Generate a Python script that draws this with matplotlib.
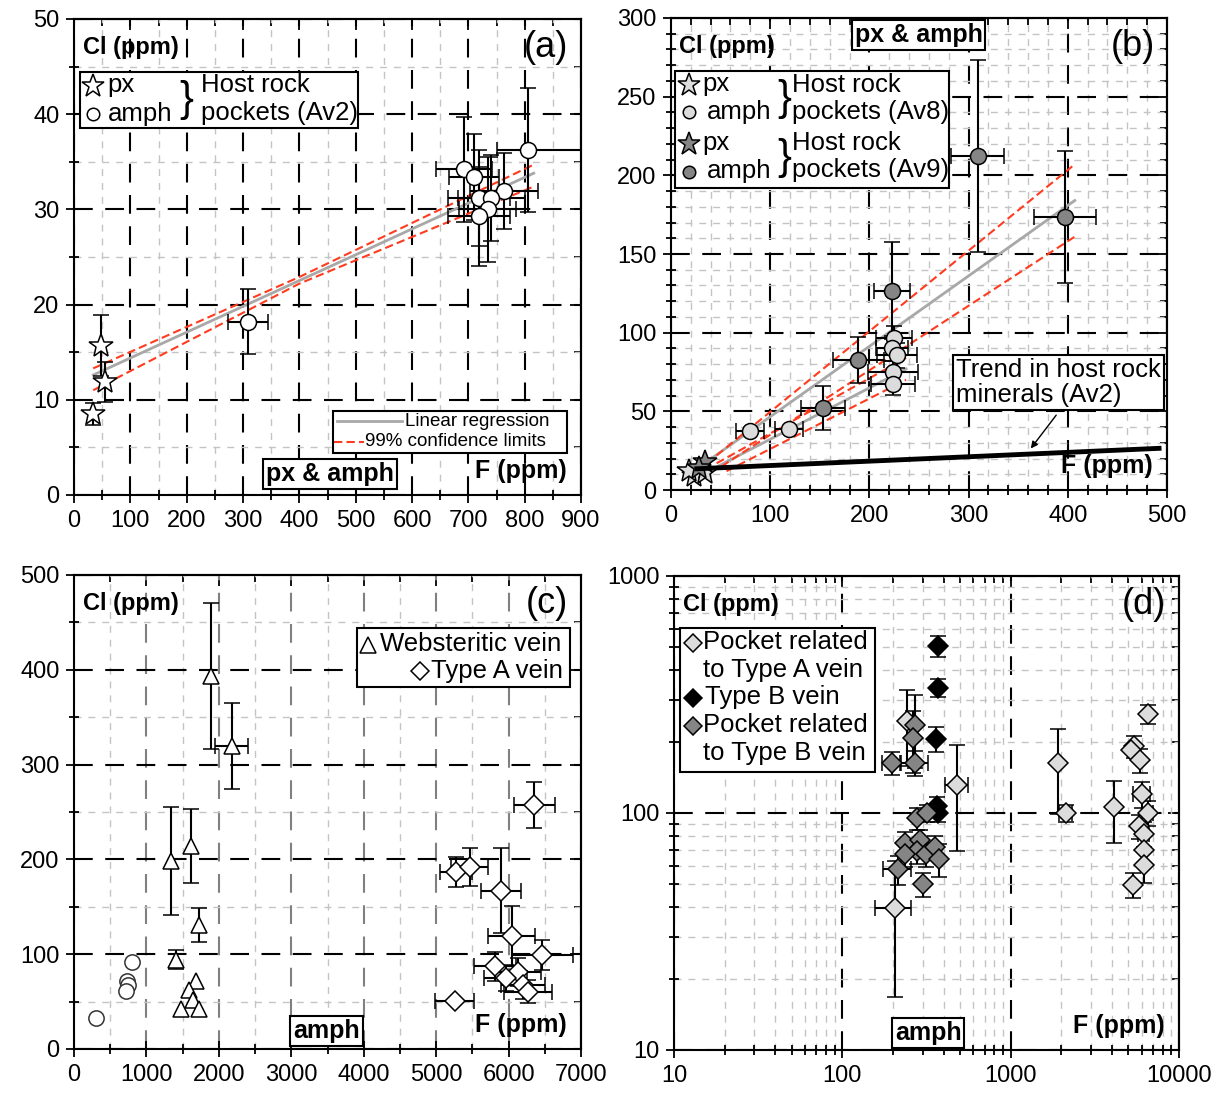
import numpy as np
import matplotlib.pyplot as plt
import matplotlib.ticker as mticker
from matplotlib.patches import Rectangle

plt.rcParams['font.family'] = ['Liberation Sans', 'DejaVu Sans']

nan = np.nan

# ---------------- panel (a): host rock pockets Av2
a_px_F = [47, 55, 33]
a_px_Cl = [15.7, 11.9, 8.5]
a_px_Clerr = [3.2, 2.1, 1.2]

a_amph_F = [309, 805, 692, 710, 763, 718, 741, 734, 719]
a_amph_Cl = [18.2, 36.2, 34.2, 33.4, 31.9, 31.2, 31.2, 30.0, 29.3]
a_amph_Ferr_lo = [35, 55, 50, 45, 60, 55, 60, 50, 55]
a_amph_Ferr_hi = [35, 95, 50, 45, 60, 55, 60, 50, 55]
a_amph_Clerr = [3.4, 6.5, 5.5, 4.5, 4.0, 5.0, 4.5, 5.5, 5.2]

a_reg_F = [34, 816]
a_reg_Cl = [12.6, 33.8]
a_ci_F = [34, 400, 816]
a_ci_hi = [13.3, 22.9, 34.7]
a_ci_lo = [11.0, 22.2, 32.4]

# ---------------- panel (b): host rock pockets Av8 / Av9
b_av8_px_F = [23, 34, 18]
b_av8_px_Cl = [9, 11, 12]
b_av9_px_F = [34, 28]
b_av9_px_Cl = [18, 14]

b_av8_F = [80, 119, 225, 223, 228, 224, 224]
b_av8_Cl = [37.7, 38.8, 96.4, 90, 85.7, 75, 67.6]
b_av8_Ferr = [14, 14, 18, 16, 20, 25, 22]
b_av8_Clerr = [nan, nan, 8, 8, 8, 7, 7]

b_av9_F = [309, 397, 223, 189, 153]
b_av9_Cl = [212, 173.6, 126.7, 82.5, 52]
b_av9_Ferr = [27, 31, 18, 26, 22]
b_av9_Clerr = [61, 42, 31, 14.5, 14]

b_reg9_F = [34, 407]
b_reg9_Cl = [17, 184]
b_ci9_hi_F = [46, 407]
b_ci9_hi_Cl = [22, 207]
b_ci9_lo_F = [51, 407]
b_ci9_lo_Cl = [15, 161]

b_reg8_F = [41, 237]
b_reg8_Cl = [13, 77]
b_ci8_hi_F = [46, 237]
b_ci8_hi_Cl = [17, 84]
b_ci8_lo_F = [56, 237]
b_ci8_lo_Cl = [12, 70]

b_trend_F = [26, 492]
b_trend_Cl = [13.5, 26.5]

# ---------------- panel (c): veins
c_web_F = [1885, 2175, 1334, 1609, 1730, 1406, 1680, 1590, 1640, 1480, 1720]
c_web_Cl = [393.5, 319.5, 198.5, 213.7, 130.7, 93.9, 72, 62, 52, 42, 42]
c_web_Ferr = [nan, 225, nan, nan, nan, nan, nan, nan, nan, nan, nan]
c_web_Clerr = [77, 45, 57, 39, 18, 10, nan, nan, nan, nan, nan]

c_circ_F = [802, 725, 739, 715, 304]
c_circ_Cl = [92, 72, 67, 61, 33]

c_A_F = [6355, 5268, 5461, 5896, 6041, 6466, 5814, 6128, 5960, 6200, 6273, 5258]
c_A_Cl = [257.4, 187, 192.4, 167, 119, 99, 87, 81, 75, 67, 60.6, 50.5]
c_A_Ferr = [280, 220, 250, 280, 320, 420, 290, 320, 300, 300, 330, 270]
c_A_Clerr = [24, 16, 20, 45, 32, 16, 15, 15, 14, 14, 12, nan]

# ---------------- panel (d): pockets related to veins (log-log)
d_pA_F = [206, 482, 243, 1900, 2118, 4090, 6516, 5380, 5150, 5850, 6010, 6516,
          5750, 6170, 6170, 6170, 5300]
d_pA_Cl = [39.8, 131, 244, 163, 100, 106, 261, 191, 185, 167, 120, 100,
           87.7, 81.8, 70, 60.5, 49.6]
d_pA_Ferr = [50, 75, nan, nan, 180, nan, nan, nan, nan, nan, 700, 500,
             nan, 500, nan, nan, nan]
d_pA_Clerr = [23, 62, 86, 64, 8, 31, 24, 20, nan, 20, 15, 12,
              10, 10, 10, 10, 6]

d_B_F = [371, 371, 362, 367, 372]
d_B_Cl = [505, 337, 205, 107, 100]
d_B_Clerr = [52, 30, 25, 10, 8]

d_pB_F = [197, 271, 261, 271, 279, 320, 237, 290, 276, 237, 312, 357, 376, 214, 301]
d_pB_Cl = [163, 235, 208, 163, 95, 100, 74.7, 77, 69, 67, 67, 72, 63.8, 57.8, 50]
d_pB_Ferr = [25, nan, nan, 50, nan, nan, nan, nan, nan, nan, nan, nan, nan, 40, nan]
d_pB_Clerr = [18, 80, 60, 20, 10, 8, 8, 8, 8, 8, 8, 8, 10, 8, 6]

LIGHT = '#dcdcdc'
DARK = '#858585'
RED = '#ff3b1f'
FS = 17
LFS = 18.5


def style(ax, xmaj=None, xmin=None, ymaj=None, ymin=None, log=False, xgrid='black'):
    ax.set_axisbelow(True)
    if log:
        ax.set_xscale('log')
        ax.set_yscale('log')
        fmt = mticker.FuncFormatter(lambda v, p: f'{v:g}')
        for axis in (ax.xaxis, ax.yaxis):
            axis.set_major_locator(mticker.LogLocator(base=10))
            axis.set_minor_locator(mticker.LogLocator(base=10, subs=np.arange(2, 10)))
            axis.set_major_formatter(fmt)
            axis.set_minor_formatter(mticker.NullFormatter())
    else:
        ax.xaxis.set_major_locator(mticker.MultipleLocator(xmaj))
        ax.xaxis.set_minor_locator(mticker.MultipleLocator(xmin))
        ax.yaxis.set_major_locator(mticker.MultipleLocator(ymaj))
        ax.yaxis.set_minor_locator(mticker.MultipleLocator(ymin))
    ax.grid(which='minor', color='#c4c4c4', lw=1.0, ls=(0, (5, 5)))
    ax.grid(which='major', axis='y', color='black', lw=1.5, ls=(0, (9, 6)))
    ax.grid(which='major', axis='x', color=xgrid, lw=1.5, ls=(0, (9, 6)))
    ax.tick_params(which='both', direction='inout', labelsize=FS, width=1.3, pad=5)
    ax.tick_params(which='major', length=11)
    ax.tick_params(which='minor', length=7)
    for s in ax.spines.values():
        s.set_linewidth(1.5)
    top = ax.secondary_xaxis('top')
    right = ax.secondary_yaxis('right')
    for sec, axis in ((top, top.xaxis), (right, right.yaxis)):
        if log:
            axis.set_major_locator(mticker.LogLocator(base=10))
            axis.set_minor_locator(mticker.LogLocator(base=10, subs=np.arange(2, 10)))
        sec.tick_params(which='both', direction='in', width=1.3,
                        labeltop=False, labelright=False)
        sec.tick_params(which='major', length=8)
        sec.tick_params(which='minor', length=5)
    if not log:
        top.xaxis.set_major_locator(mticker.MultipleLocator(xmaj))
        top.xaxis.set_minor_locator(mticker.MultipleLocator(xmin))
        right.yaxis.set_major_locator(mticker.MultipleLocator(ymaj))
        right.yaxis.set_minor_locator(mticker.MultipleLocator(ymin))
    for sec in (top, right):
        for s in sec.spines.values():
            s.set_linewidth(1.5)


def labels(ax, tag):
    ax.text(0.017, 0.94, 'Cl (ppm)', transform=ax.transAxes, fontsize=17,
            fontweight='bold', va='center', zorder=6)
    ax.text(0.975, 0.94, tag, transform=ax.transAxes, fontsize=26,
            ha='right', va='center', zorder=6)
    ax.text(0.972, 0.05, 'F (ppm)', transform=ax.transAxes, fontsize=18,
            fontweight='bold', ha='right', va='center', zorder=6)


def boxed(ax, x, y, s):
    ax.text(x, y, s, transform=ax.transAxes, fontsize=18, fontweight='bold',
            ha='center', va='center', zorder=7,
            bbox=dict(boxstyle='square,pad=0.12', fc='white', ec='black', lw=1.5))


def frame_box(ax, x, y, w, h):
    ax.add_patch(Rectangle((x, y), w, h, transform=ax.transAxes, fc='white',
                           ec='black', lw=1.5, zorder=6, clip_on=False))


def key(ax, x, y, marker, fc, ms):
    ax.plot([x], [y], marker=marker, ms=ms, mfc=fc, mec='black', mew=1.1,
            ls='none', transform=ax.transAxes, clip_on=False, zorder=7)


def txt(ax, x, y, s, size=LFS, **kw):
    ax.text(x, y, s, transform=ax.transAxes, fontsize=size, va='center', zorder=7, **kw)


eb = dict(ecolor='black', elinewidth=1.5, capsize=6, capthick=1.5,
          mec='black', mew=1.1, ls='none')

fig = plt.figure(figsize=(12.3, 10.97), dpi=100)

# ================= (a)
ax = fig.add_axes([0.0602, 0.5488, 0.4122, 0.4339])
style(ax, 100, 50, 10, 5)
ax.set_xlim(0, 900)
ax.set_ylim(0, 50)
ax.plot(a_reg_F, a_reg_Cl, color='#a8a8a8', lw=2, zorder=2)
ax.plot(a_ci_F, a_ci_hi, color=RED, lw=1.5, ls=(0, (4, 2)), zorder=2)
ax.plot(a_ci_F, a_ci_lo, color=RED, lw=1.5, ls=(0, (4, 2)), zorder=2)
ax.errorbar(a_px_F, a_px_Cl, yerr=a_px_Clerr, fmt='*', ms=18, mfc='white', zorder=3, **eb)
ax.errorbar(a_amph_F, a_amph_Cl, xerr=[a_amph_Ferr_lo, a_amph_Ferr_hi], yerr=a_amph_Clerr,
            fmt='o', ms=11.5, mfc='white', zorder=3, **eb)
labels(ax, '(a)')
boxed(ax, 0.505, 0.044, 'px & amph')
frame_box(ax, 0.012, 0.77, 0.548, 0.118)
key(ax, 0.038, 0.860, '*', 'white', 17)
key(ax, 0.038, 0.800, 'o', 'white', 9)
txt(ax, 0.065, 0.862, 'px')
txt(ax, 0.066, 0.800, 'amph')
txt(ax, 0.221, 0.830, '}', size=30, ha='center')
txt(ax, 0.250, 0.862, 'Host rock')
txt(ax, 0.250, 0.802, 'pockets (Av2)')
frame_box(ax, 0.511, 0.088, 0.461, 0.088)
ax.plot([0.519, 0.647], [0.155, 0.155], color='#a8a8a8', lw=2,
        transform=ax.transAxes, zorder=7)
ax.plot([0.513, 0.571], [0.112, 0.112], color=RED, lw=1.5, ls=(0, (4, 2)),
        transform=ax.transAxes, zorder=7)
txt(ax, 0.652, 0.155, 'Linear regression', size=13.5)
txt(ax, 0.574, 0.112, '99% confidence limits', size=13.5)

# ================= (b)
ax = fig.add_axes([0.5455, 0.5533, 0.4033, 0.4303])
style(ax, 100, 20, 50, 10)
ax.set_xlim(0, 500)
ax.set_ylim(0, 300)
for F, Cl, c, ls in ((b_reg9_F, b_reg9_Cl, '#a8a8a8', '-'),
                     (b_reg8_F, b_reg8_Cl, '#a8a8a8', '-'),
                     (b_ci9_hi_F, b_ci9_hi_Cl, RED, (0, (4, 2))),
                     (b_ci9_lo_F, b_ci9_lo_Cl, RED, (0, (4, 2))),
                     (b_ci8_hi_F, b_ci8_hi_Cl, RED, (0, (4, 2))),
                     (b_ci8_lo_F, b_ci8_lo_Cl, RED, (0, (4, 2)))):
    ax.plot(F, Cl, color=c, lw=2 if ls == '-' else 1.5, ls=ls, zorder=2)
ax.plot(b_trend_F, b_trend_Cl, color='black', lw=3.5, zorder=4)
ax.errorbar(b_av8_F, b_av8_Cl, xerr=b_av8_Ferr, yerr=b_av8_Clerr, fmt='o', ms=11.5,
            mfc=LIGHT, zorder=3, **eb)
ax.errorbar(b_av9_F, b_av9_Cl, xerr=b_av9_Ferr, yerr=b_av9_Clerr, fmt='o', ms=11.5,
            mfc=DARK, zorder=3, **eb)
ax.plot(b_av8_px_F, b_av8_px_Cl, '*', ms=18, mfc=LIGHT, mec='black', mew=1.1, zorder=3)
ax.plot(b_av9_px_F, b_av9_px_Cl, '*', ms=18, mfc=DARK, mec='black', mew=1.1, zorder=3)
labels(ax, '(b)')
boxed(ax, 0.499, 0.963, 'px & amph')
frame_box(ax, 0.008, 0.64, 0.552, 0.248)
key(ax, 0.037, 0.858, '*', LIGHT, 17)
key(ax, 0.037, 0.800, 'o', LIGHT, 9)
key(ax, 0.037, 0.733, '*', DARK, 17)
key(ax, 0.037, 0.673, 'o', DARK, 9)
txt(ax, 0.064, 0.860, 'px')
txt(ax, 0.072, 0.800, 'amph')
txt(ax, 0.064, 0.735, 'px')
txt(ax, 0.072, 0.675, 'amph')
txt(ax, 0.228, 0.828, '}', size=30, ha='center')
txt(ax, 0.228, 0.703, '}', size=30, ha='center')
txt(ax, 0.245, 0.857, 'Host rock')
txt(ax, 0.245, 0.800, 'pockets (Av8)')
txt(ax, 0.245, 0.735, 'Host rock')
txt(ax, 0.245, 0.677, 'pockets (Av9)')
ax.text(0.575, 0.228, 'Trend in host rock\nminerals (Av2)', transform=ax.transAxes,
        fontsize=LFS, va='center', ha='left', linespacing=1.05, zorder=7,
        bbox=dict(boxstyle='square,pad=0.12', fc='white', ec='black', lw=1.5))
ax.annotate('', xy=(361, 25), xytext=(390, 49),
            arrowprops=dict(arrowstyle='-|>', color='black', lw=1, mutation_scale=10),
            zorder=7)

# ================= (c)
ax = fig.add_axes([0.0602, 0.0438, 0.4122, 0.4321])
style(ax, 1000, 500, 100, 50, xgrid='#808080')
ax.set_xlim(0, 7000)
ax.set_ylim(0, 500)
ax.errorbar(c_web_F, c_web_Cl, xerr=c_web_Ferr, yerr=c_web_Clerr, fmt='^', ms=12,
            mfc='white', zorder=3, **eb)
ax.plot(c_circ_F, c_circ_Cl, 'o', ms=11, mfc='white', mec='#333333', mew=1.1, zorder=3)
ax.errorbar(c_A_F, c_A_Cl, xerr=c_A_Ferr, yerr=c_A_Clerr, fmt='D', ms=10.5,
            mfc='white', zorder=3, **eb)
labels(ax, '(c)')
boxed(ax, 0.498, 0.038, 'amph')
frame_box(ax, 0.558, 0.763, 0.42, 0.125)
key(ax, 0.580, 0.853, '^', 'white', 12)
key(ax, 0.683, 0.797, 'D', 'white', 9)
txt(ax, 0.603, 0.855, 'Websteritic vein')
txt(ax, 0.704, 0.797, 'Type A vein')

# ================= (d)
ax = fig.add_axes([0.5480, 0.0429, 0.4106, 0.4321])
style(ax, log=True)
ax.set_xlim(10, 10000)
ax.set_ylim(10, 1000)
ax.errorbar(d_pA_F, d_pA_Cl, xerr=d_pA_Ferr, yerr=d_pA_Clerr, fmt='D', ms=10,
            mfc=LIGHT, zorder=3, **eb)
ax.errorbar(d_B_F, d_B_Cl, yerr=d_B_Clerr, fmt='D', ms=10, mfc='black', zorder=3, **eb)
ax.errorbar(d_pB_F, d_pB_Cl, xerr=d_pB_Ferr, yerr=d_pB_Clerr, fmt='D', ms=10,
            mfc=DARK, zorder=3, **eb)
labels(ax, '(d)')
boxed(ax, 0.503, 0.036, 'amph')
frame_box(ax, 0.011, 0.587, 0.387, 0.303)
key(ax, 0.037, 0.859, 'D', LIGHT, 9)
key(ax, 0.037, 0.742, 'D', 'black', 9)
key(ax, 0.037, 0.683, 'D', DARK, 9)
txt(ax, 0.058, 0.861, 'Pocket related')
txt(ax, 0.058, 0.802, 'to Type A vein')
txt(ax, 0.062, 0.744, 'Type B vein')
txt(ax, 0.058, 0.685, 'Pocket related')
txt(ax, 0.058, 0.626, 'to Type B vein')

fig.savefig('out.png', dpi=100)
